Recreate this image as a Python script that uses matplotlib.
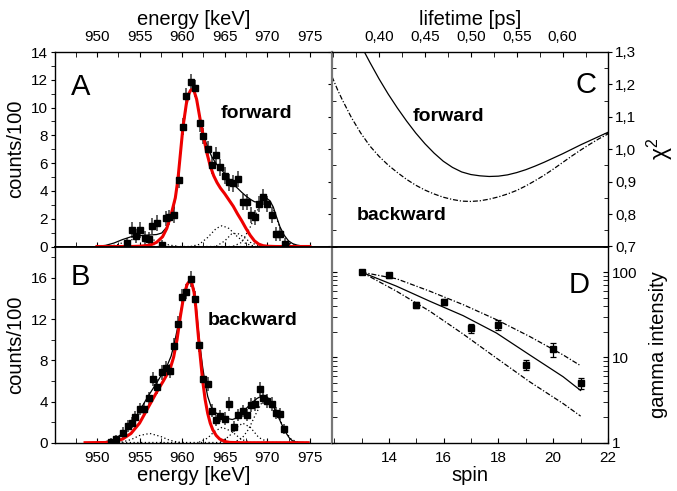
import matplotlib
matplotlib.use("Agg")
import matplotlib.pyplot as plt
from matplotlib.ticker import MultipleLocator, FixedLocator, FuncFormatter, LogLocator, NullFormatter

plt.rcParams['font.family'] = ['Liberation Sans', 'DejaVu Sans']
plt.rcParams['mathtext.fontset'] = 'custom'
plt.rcParams['mathtext.rm'] = 'Liberation Sans'
plt.rcParams['mathtext.it'] = 'Liberation Sans'

# ---------------- Panel A (forward) ----------------
energyA = [953.5, 954.1, 954.6, 955.1, 955.6, 956.1, 956.5, 957.0, 957.6, 958.1, 958.5, 959.0,
           959.6, 960.05, 960.5, 961.0, 961.5, 962.1, 962.5, 963.0, 963.5, 964.0, 964.5, 965.0,
           965.5, 966.0, 966.6, 967.1, 967.6, 968.1, 968.5, 969.0, 969.5, 970.0, 970.5, 971.0,
           971.5, 972.1]
countsA = [0.27, 1.19, 0.74, 1.19, 0.58, 0.55, 1.48, 1.69, 0.1, 2.03, 2.1, 2.27,
           4.79, 8.62, 10.8, 11.82, 11.39, 8.87, 7.95, 7.0, 5.85, 6.57, 5.7, 5.1,
           4.62, 4.55, 4.86, 3.18, 3.18, 2.27, 2.1, 3.06, 3.54, 3.06, 2.27, 0.88,
           0.88, 0.16]
errA = [0.35, 0.55, 0.5, 0.55, 0.5, 0.5, 0.55, 0.55, 0.4, 0.55, 0.55, 0.55,
        0.6, 0.6, 0.62, 0.63, 0.63, 0.6, 0.6, 0.6, 0.6, 0.6, 0.6, 0.6,
        0.6, 0.6, 0.6, 0.58, 0.58, 0.55, 0.55, 0.58, 0.58, 0.58, 0.55, 0.5,
        0.5, 0.35]

fitA_E = [950.0, 951.0, 952.0, 953.0, 954.0, 955.0, 956.0, 957.0, 957.6, 958.2, 958.6, 959.0,
          959.5, 960.0, 960.5, 960.8, 961.0, 961.2, 961.4, 961.7, 962.0, 962.5, 963.0, 963.5,
          964.0, 964.5, 965.0, 965.5, 966.0, 966.5, 967.0, 967.5, 968.0, 968.5, 969.0, 969.5,
          969.9, 970.3, 970.7, 971.1, 971.5, 972.0, 972.5, 973.0, 973.5, 974.0, 975.0]
fitA_tot = [0.02, 0.08, 0.25, 0.5, 0.7, 0.78, 0.82, 0.86, 0.97, 1.4, 1.9, 2.7,
            4.8, 7.9, 10.2, 11.0, 11.25, 11.3, 11.2, 10.6, 9.5, 8.1, 7.1, 6.45,
            5.95, 5.6, 5.25, 4.85, 4.5, 4.2, 3.9, 3.63, 3.4, 3.22, 3.2, 3.38,
            3.48, 3.3, 2.85, 2.1, 1.4, 0.8, 0.4, 0.2, 0.1, 0.05, 0.0]

redA_E = [950.0, 954.0, 955.0, 956.0, 956.5, 957.0, 957.7, 958.2, 958.75, 959.2, 959.5, 959.8,
          960.1, 960.5, 960.8, 961.0, 961.2, 961.4, 961.7, 962.1, 962.5, 962.9, 963.3, 963.7,
          964.1, 964.5, 965.0, 965.5, 966.0, 966.5, 967.0, 967.5, 968.0, 968.5, 969.0, 969.5,
          970.0, 971.0, 975.0]
redA = [0.0, 0.0, 0.02, 0.08, 0.16, 0.3, 0.7, 1.3, 2.4, 3.5, 4.8, 6.7,
        8.6, 10.3, 11.0, 11.25, 11.3, 11.2, 10.6, 9.2, 7.9, 6.75, 5.8, 5.1,
        4.6, 4.2, 3.8, 3.35, 2.9, 2.35, 1.85, 1.3, 0.8, 0.4, 0.17, 0.06,
        0.02, 0.0, 0.0]

compA1_E = [951.5, 952.5, 953.5, 954.5, 955.5, 956.5, 957.5, 958.5, 959.5]
compA1 = [0.02, 0.15, 0.4, 0.55, 0.6, 0.5, 0.3, 0.1, 0.02]
compA2_E = [961.0, 962.0, 963.0, 964.0, 964.7, 965.5, 966.5, 967.5, 968.5]
compA2 = [0.0, 0.15, 0.65, 1.3, 1.5, 1.3, 0.7, 0.2, 0.02]
compA3_E = [964.0, 965.0, 965.8, 966.5, 967.2, 968.0, 969.0]
compA3 = [0.02, 0.4, 0.9, 0.95, 0.7, 0.3, 0.05]
compA4_E = [966.0, 967.0, 968.0, 968.5, 969.0, 969.5, 970.0, 970.5, 971.0, 971.5, 972.0, 972.5, 973.5]
compA4 = [0.02, 0.3, 1.4, 2.1, 2.8, 3.2, 3.3, 3.0, 2.2, 1.3, 0.65, 0.25, 0.02]
bgA_E = [950.0, 975.0]
bgA = [0.05, 0.05]

# ---------------- Panel B (backward) ----------------
energyB = [951.7, 952.2, 953.1, 953.7, 954.1, 954.5, 955.0, 955.5, 956.1, 956.6, 957.0, 957.6,
           958.1, 958.6, 959.0, 959.5, 960.0, 960.5, 961.0, 961.5, 962.0, 962.5, 963.0, 963.5,
           964.0, 964.5, 965.0, 965.5, 966.1, 966.6, 967.1, 967.6, 968.1, 968.6, 969.1, 969.5,
           970.0, 970.5, 971.0, 971.5, 972.0]
countsB = [0.1, 0.33, 0.98, 1.62, 1.95, 2.47, 3.25, 3.25, 4.32, 6.17, 5.45, 6.82,
           7.24, 6.98, 9.4, 11.55, 14.15, 14.64, 15.9, 14.0, 9.48, 6.17, 5.72, 3.12,
           2.18, 2.6, 2.34, 3.77, 1.56, 2.7, 3.09, 2.7, 3.67, 3.77, 5.2, 4.38,
           4.03, 3.77, 2.86, 2.79, 1.3]
errB = [0.35, 0.4, 0.5, 0.55, 0.55, 0.6, 0.6, 0.6, 0.65, 0.7, 0.7, 0.7,
        0.7, 0.7, 0.72, 0.72, 0.73, 0.73, 0.75, 0.73, 0.72, 0.7, 0.7, 0.6,
        0.55, 0.6, 0.6, 0.65, 0.55, 0.6, 0.6, 0.6, 0.65, 0.65, 0.7, 0.65,
        0.65, 0.65, 0.6, 0.6, 0.5]

fitB_E = [950.0, 951.0, 952.0, 953.0, 954.0, 955.0, 956.0, 957.0, 957.7, 958.2, 958.7, 959.1,
          959.5, 959.9, 960.2, 960.6, 960.9, 961.1, 961.4, 961.65, 961.9, 962.15, 962.4, 962.7,
          963.0, 963.4, 963.8, 964.3, 964.8, 965.3, 965.9, 966.4, 966.9, 967.5, 968.1, 968.8,
          969.5, 969.9, 970.3, 970.8, 971.3, 971.8, 972.2, 972.6, 973.0, 973.5, 974.5]
fitB_tot = [0.0, 0.1, 0.3, 0.9, 1.8, 3.1, 4.5, 5.8, 6.75, 7.4, 8.4, 9.7,
            11.3, 13.0, 14.2, 15.3, 15.7, 15.6, 14.9, 13.3, 11.0, 9.1, 7.4, 5.8,
            4.5, 3.5, 3.0, 2.7, 2.5, 2.35, 2.25, 2.4, 2.8, 3.3, 3.8, 4.3,
            4.6, 4.5, 4.15, 3.4, 2.5, 1.6, 0.95, 0.45, 0.15, 0.05, 0.0]

redB_E = [948.6, 951.0, 952.0, 953.0, 954.0, 955.0, 956.0, 957.0, 957.8, 958.6, 959.0, 959.4,
          959.8, 960.2, 960.6, 960.9, 961.1, 961.4, 961.6, 961.8, 962.1, 962.4, 962.7, 963.0,
          963.3, 963.6, 964.0, 964.4, 965.0, 965.6, 967.0, 974.8]
redB = [0.0, 0.02, 0.1, 0.35, 0.9, 1.9, 3.4, 4.9, 6.0, 7.2, 8.3, 10.0,
        12.3, 14.3, 15.4, 15.7, 15.6, 14.6, 13.2, 11.3, 8.6, 6.1, 4.2, 2.85,
        1.9, 1.25, 0.7, 0.36, 0.12, 0.03, 0.0, 0.0]

compB1_E = [952.0, 953.0, 954.0, 955.0, 956.2, 957.5, 958.5, 959.5, 960.5]
compB1 = [0.0, 0.08, 0.3, 0.7, 0.9, 0.6, 0.25, 0.05, 0.0]
compB2_E = [962.0, 963.0, 963.8, 964.7, 965.8, 967.0, 968.0]
compB2 = [0.05, 0.45, 1.1, 1.5, 1.1, 0.3, 0.05]
compB3_E = [964.5, 965.5, 966.3, 967.1, 968.0, 969.0, 970.0]
compB3 = [0.1, 0.6, 1.4, 1.9, 1.5, 0.5, 0.1]
compB4_E = [966.0, 967.0, 967.8, 968.6, 969.3, 969.8, 970.4, 971.0, 971.6, 972.2, 972.8, 973.6]
compB4 = [0.03, 0.4, 1.3, 2.7, 3.8, 4.1, 3.9, 3.1, 2.0, 1.0, 0.35, 0.03]
bgB_E = [949.0, 975.0]
bgB = [0.1, 0.1]

# ---------------- Panel C (chi^2 vs lifetime) ----------------
tauF = [0.384, 0.39, 0.40, 0.41, 0.42, 0.43, 0.44, 0.45, 0.46, 0.47, 0.48, 0.49,
        0.50, 0.51, 0.52, 0.53, 0.54, 0.55, 0.56, 0.57, 0.58, 0.59, 0.60, 0.61,
        0.62, 0.63, 0.64, 0.65]
chiF = [1.300, 1.268, 1.217, 1.170, 1.127, 1.087, 1.050, 1.017, 0.988, 0.963, 0.944, 0.930,
        0.922, 0.918, 0.916, 0.917, 0.921, 0.928, 0.937, 0.948, 0.960, 0.973, 0.986, 1.000,
        1.014, 1.027, 1.040, 1.053]
tauB = [0.3487, 0.355, 0.36, 0.37, 0.38, 0.39, 0.40, 0.41, 0.42, 0.43, 0.44, 0.45,
        0.46, 0.47, 0.48, 0.49, 0.50, 0.51, 0.52, 0.53, 0.54, 0.55, 0.56, 0.57,
        0.58, 0.59, 0.60, 0.61, 0.62, 0.63, 0.64, 0.65]
chiB = [1.224, 1.182, 1.152, 1.097, 1.050, 1.010, 0.978, 0.951, 0.928, 0.907, 0.889, 0.874,
        0.862, 0.852, 0.845, 0.840, 0.839, 0.841, 0.846, 0.853, 0.862, 0.873, 0.887, 0.903,
        0.920, 0.939, 0.959, 0.979, 0.998, 1.016, 1.033, 1.048]

# ---------------- Panel D (gamma intensity vs spin) ----------------
spin = [13, 14, 15, 16, 17, 18, 19, 20, 21]
intensity = [100, 91.4, 41.6, 45.1, 22.1, 24.2, 8.2, 12.5, 4.96]
intErr = [2.0, 5.0, 3.5, 3.8, 2.5, 3.5, 1.1, 2.3, 0.75]
curveSpin = [13.0, 14.28, 15.5, 16.71, 17.93, 19.14, 20.36, 21.0]
curveMid = [100, 68.4, 45.5, 30.9, 19.3, 10.7, 5.94, 4.1]
curveHigh = [100, 83.6, 59.7, 41.6, 27.7, 17.6, 10.7, 8.0]
curveLow = [100, 59.7, 34.7, 18.8, 9.8, 5.18, 2.88, 2.05]

# ---------------- Figure ----------------
fig = plt.figure(figsize=(6.77, 4.91), dpi=100)
L, M, R = 55/677, 332/677, 608/677
B0, M0, T0 = 1-442.7/491, 1-246.5/491, 1-52/491
axA = fig.add_axes([L, M0, M-L, T0-M0])
axB = fig.add_axes([L, B0, M-L, M0-B0])
axC = fig.add_axes([M, M0, R-M, T0-M0])
axD = fig.add_axes([M, B0, R-M, M0-B0])

TFS = 11
LFS = 14.5
dot = (0, (1, 2))
dashdot = (0, (4, 1.5, 1, 1.5))

def spectrum(ax, E, c, e, fE, ftot, rE, red, comps, bg):
    for cE, cv in comps:
        ax.plot(cE, cv, color='black', ls=dot, lw=0.9)
    ax.plot(bg[0], bg[1], color='black', ls=dot, lw=0.9)
    ax.errorbar(E, c, yerr=e, fmt='none', ecolor='#555555', elinewidth=1.3, capsize=0, zorder=3)
    ax.plot(fE, ftot, color='black', lw=0.9, zorder=4)
    ax.plot(rE, red, color='#ee0000', lw=2.2, zorder=5, solid_joinstyle='round')
    ax.plot(E, c, 's', color='black', ms=4.2, zorder=6)
    ax.set_xlim(945.07, 977.6)
    ax.xaxis.set_major_locator(MultipleLocator(5))
    ax.xaxis.set_minor_locator(MultipleLocator(2.5))

spectrum(axA, energyA, countsA, errA, fitA_E, fitA_tot, redA_E, redA,
         [(compA1_E, compA1), (compA2_E, compA2), (compA3_E, compA3), (compA4_E, compA4)],
         (bgA_E, bgA))
spectrum(axB, energyB, countsB, errB, fitB_E, fitB_tot, redB_E, redB,
         [(compB1_E, compB1), (compB2_E, compB2), (compB3_E, compB3), (compB4_E, compB4)],
         (bgB_E, bgB))

# Panel A axes
axA.set_ylim(0, 14)
axA.yaxis.set_major_locator(MultipleLocator(2))
axA.yaxis.set_minor_locator(MultipleLocator(1))
axA.xaxis.tick_top()
axA.xaxis.set_label_position('top')
axA.set_xlabel('energy [keV]', fontsize=LFS, labelpad=3)
axA.set_ylabel('counts/100', fontsize=LFS, labelpad=4)
axA.tick_params(axis='x', which='both', direction='in', length=3.5, labelsize=TFS, pad=6, top=True, bottom=True, labelbottom=False)
axA.tick_params(axis='y', which='both', direction='out', length=3, labelsize=TFS, pad=2, right=False)
axA.text(0.057, 0.78, 'A', transform=axA.transAxes, fontsize=21, va='baseline', ha='left')
axA.text(0.728, 0.686, 'forward', transform=axA.transAxes, fontsize=14, fontweight='bold', ha='center', va='center')

# Panel B axes
axB.set_ylim(0, 19.05)
axB.yaxis.set_major_locator(MultipleLocator(4))
axB.yaxis.set_minor_locator(MultipleLocator(2))
axB.set_xlabel('energy [keV]', fontsize=LFS, labelpad=1)
axB.set_ylabel('counts/100', fontsize=LFS, labelpad=4)
axB.tick_params(axis='x', which='both', direction='in', length=3.5, labelsize=TFS, pad=6, top=False)
axB.tick_params(axis='y', which='both', direction='out', length=3, labelsize=TFS, pad=2, right=False)
axB.text(0.057, 0.806, 'B', transform=axB.transAxes, fontsize=21, va='baseline', ha='left')
axB.text(0.713, 0.622, 'backward', transform=axB.transAxes, fontsize=14, fontweight='bold', ha='center', va='center')

# Panel C
axC.plot(tauF, chiF, color='black', lw=0.9)
axC.plot(tauB, chiB, color='black', lw=0.9, ls=dashdot)
axC.set_xlim(0.3487, 0.6495)
axC.set_ylim(0.7, 1.3)
axC.xaxis.set_major_locator(FixedLocator([0.40, 0.45, 0.50, 0.55, 0.60]))
axC.xaxis.set_minor_locator(FixedLocator([0.35, 0.375, 0.425, 0.475, 0.525, 0.575, 0.625]))
axC.xaxis.set_major_formatter(FuncFormatter(lambda v, p: f'{v:.2f}'.replace('.', ',')))
axC.xaxis.tick_top()
axC.xaxis.set_label_position('top')
axC.set_xlabel('lifetime [ps]', fontsize=LFS, labelpad=3)
axC.yaxis.set_major_locator(MultipleLocator(0.1))
axC.yaxis.set_minor_locator(MultipleLocator(0.05))
axC.yaxis.set_major_formatter(FuncFormatter(lambda v, p: f'{v:.1f}'.replace('.', ',')))
axC.yaxis.tick_right()
axC.yaxis.set_label_position('right')
axC.set_ylabel('χ$^{2}$', fontsize=LFS+2, rotation=90, labelpad=6)
axC.tick_params(axis='x', which='both', direction='in', length=3.5, labelsize=TFS, pad=6, top=True, bottom=False)
axC.tick_params(axis='y', which='major', direction='out', length=3, labelsize=TFS, pad=2, left=True, right=True)
axC.tick_params(axis='y', which='minor', direction='in', length=3, left=True, right=True)
axC.text(0.957, 0.789, 'C', transform=axC.transAxes, fontsize=21, va='baseline', ha='right')
axC.text(0.422, 0.667, 'forward', transform=axC.transAxes, fontsize=14, fontweight='bold', ha='center', va='center')
axC.text(0.2525, 0.157, 'backward', transform=axC.transAxes, fontsize=14, fontweight='bold', ha='center', va='center')

# Panel D
axD.set_yscale('log')
axD.plot(curveSpin, curveMid, color='black', lw=0.9)
axD.plot(curveSpin, curveHigh, color='black', lw=0.9, ls=dashdot)
axD.plot(curveSpin, curveLow, color='black', lw=0.9, ls=dashdot)
axD.errorbar(spin, intensity, yerr=intErr, fmt='s', color='black', ms=4.2, capsize=2, elinewidth=0.9, capthick=0.9, zorder=5)
axD.set_xlim(11.92, 22)
axD.set_ylim(1, 200)
axD.xaxis.set_major_locator(FixedLocator([14, 16, 18, 20, 22]))
axD.xaxis.set_minor_locator(FixedLocator([12, 13, 15, 17, 19, 21]))
axD.yaxis.set_major_locator(LogLocator(base=10, numticks=5))
axD.yaxis.set_minor_locator(LogLocator(base=10, subs=(2, 3, 4, 5, 6, 7, 8, 9), numticks=10))
axD.yaxis.set_minor_formatter(NullFormatter())
axD.yaxis.set_major_formatter(FuncFormatter(lambda v, p: f'{v:g}'))
axD.yaxis.tick_right()
axD.yaxis.set_label_position('right')
axD.set_xlabel('spin', fontsize=LFS, labelpad=1)
axD.set_ylabel('gamma intensity', fontsize=LFS, rotation=90, labelpad=8)
axD.tick_params(axis='x', which='both', direction='in', length=3.5, labelsize=TFS, pad=6, top=False)
axD.tick_params(axis='y', which='both', direction='in', length=3.5, labelsize=TFS, pad=3, left=True, right=True)
axD.text(0.935, 0.763, 'D', transform=axD.transAxes, fontsize=21, va='baseline', ha='right')

# spines
for ax in (axA, axB, axC, axD):
    for s in ax.spines.values():
        s.set_linewidth(1.0)
        s.set_color('black')
for ax in (axA, axB):
    ax.spines['right'].set_visible(False)
for ax in (axC, axD):
    ax.spines['left'].set_color('#777777')
    ax.spines['left'].set_linewidth(1.6)
for ax in (axA, axC):
    ax.spines['bottom'].set_linewidth(1.3)
for ax in (axB, axD):
    ax.spines['top'].set_linewidth(1.3)

fig.savefig('out.png', dpi=100)
